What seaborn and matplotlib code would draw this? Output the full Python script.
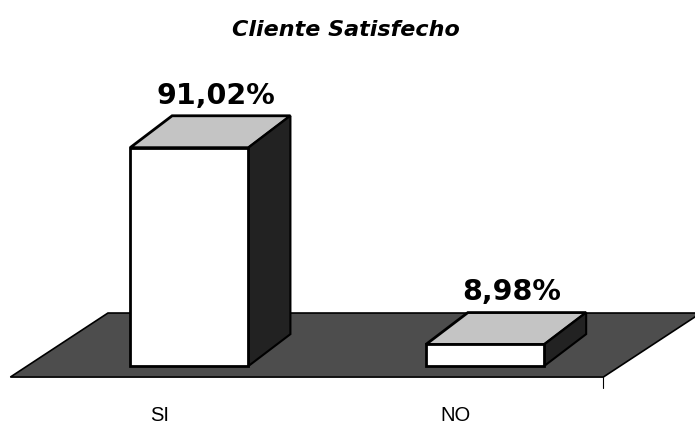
import numpy as np
import pandas as pd
import seaborn as sns
import matplotlib.pyplot as plt
from matplotlib.patches import Polygon

# Data
categories = ['SI', 'NO']
values = [91.02, 8.98]
value_labels = ['91,02%', '8,98%']
title = 'Cliente Satisfecho'

df = pd.DataFrame({'respuesta': categories, 'porcentaje': values})

sns.set_theme(style='white')
plt.rcParams['font.family'] = ['DejaVu Sans']
plt.rcParams['text.color'] = 'black'

fig = plt.figure(figsize=(6.95, 4.27), dpi=100)
ax = fig.add_axes([0, 0, 1, 1])

# fake 3d depth of the bars, in data units
dx, dy = 0.142, 13.3
# floor of the 3d chart
fx0, fx1, fy = -0.605, 1.40, -4.6
fdx, fdy = 0.33, 26.7
floor = Polygon([(fx0, fy), (fx1, fy), (fx1 + fdx, fy + fdy), (fx0 + fdx, fy + fdy)],
                closed=True, facecolor='#4d4d4d', edgecolor='black', lw=1.2, zorder=0)
ax.add_patch(floor)

sns.barplot(data=df, x='respuesta', y='porcentaje', color='white', edgecolor='black',
            linewidth=2, width=0.4, saturation=1, ax=ax, zorder=3)

# top and side faces for each bar
for rect, label in zip(ax.containers[0], value_labels):
    x0, w, h = rect.get_x(), rect.get_width(), rect.get_height()
    top = Polygon([(x0, h), (x0 + w, h), (x0 + w + dx, h + dy), (x0 + dx, h + dy)],
                  closed=True, facecolor='#c4c4c4', edgecolor='black', lw=2, zorder=2)
    side = Polygon([(x0 + w, 0), (x0 + w, h), (x0 + w + dx, h + dy), (x0 + w + dx, dy)],
                   closed=True, facecolor='#222222', edgecolor='black', lw=1.5, zorder=2)
    ax.add_patch(top)
    ax.add_patch(side)
    ax.text(x0 + w / 2 + 0.09, h + dy + 3, label, ha='center', va='bottom',
            fontsize=20.5, fontweight='bold')

# category labels under the floor
for i, cat in enumerate(categories):
    ax.text(i - 0.1, -20, cat, ha='center', va='center', fontsize=14.5,
            family='Liberation Sans')

# axis tick at the right end of the floor
ax.plot([fx1, fx1], [fy, fy - 4.5], color='black', lw=0.8)

ax.set_xlim(-0.64, 1.71)
ax.set_ylim(-25, 153)
ax.axis('off')

fig.text(0.497, 0.93, title, ha='center', va='center', fontsize=16,
         fontweight='bold', style='italic')

fig.savefig('out.png', dpi=100)
